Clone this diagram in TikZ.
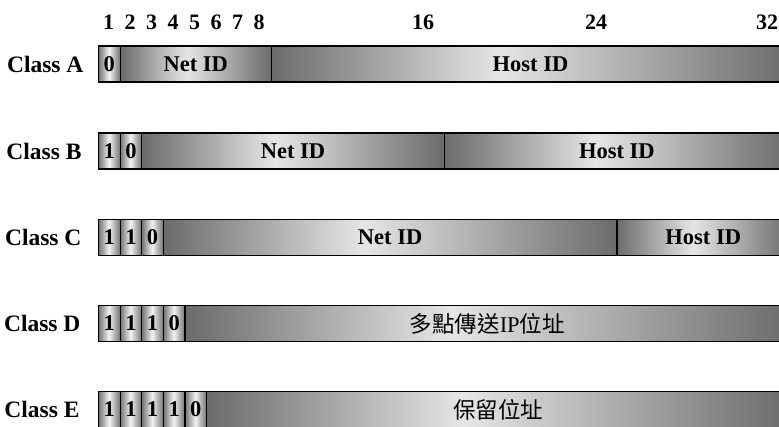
\documentclass[tikz,border=0pt]{standalone}
\usepackage{fontspec}
\setmainfont{Liberation Serif}
\newfontfamily\cjk{Noto Sans CJK TC}
\definecolor{fdark}{gray}{0.42}
\definecolor{flight}{gray}{0.9}
\definecolor{cdark}{gray}{0.45}
\definecolor{clight}{gray}{0.95}
\pgfdeclarehorizontalshading{fieldshade}{100bp}{color(0bp)=(fdark); color(25bp)=(fdark); color(47bp)=(flight); color(75bp)=(fdark); color(100bp)=(fdark)}
\pgfdeclarehorizontalshading{cellshade}{100bp}{color(0bp)=(cdark); color(25bp)=(cdark); color(49bp)=(clight); color(75bp)=(cdark); color(100bp)=(cdark)}
\tikzset{
  box/.style={draw=black, line width=1.1pt, shade, shading=fieldshade, inner sep=0pt,
    minimum height=36pt, anchor=west, font=\fontsize{22.5}{24}\selectfont\bfseries},
  cell/.style={box, shading=cellshade, minimum width=21.6pt},
  field/.style={box},
  cls/.style={anchor=east, font=\fontsize{23.5}{25}\selectfont\bfseries},
  bitnum/.style={anchor=base, font=\fontsize{22}{24}\selectfont\bfseries},
}
\begin{document}
\begin{tikzpicture}[x=1pt,y=-1pt]
\useasboundingbox (0,0) rectangle (779,426);
\clip (0,0) rectangle (779,426);
% bit numbers
\node[bitnum] (n1) at (108.5,29.5) {1};
\node[bitnum] (n2) at (130,29.5) {2};
\node[bitnum] (n3) at (151.5,29.5) {3};
\node[bitnum] (n4) at (173,29.5) {4};
\node[bitnum] (n5) at (194.5,29.5) {5};
\node[bitnum] (n6) at (216,29.5) {6};
\node[bitnum] (n7) at (237.5,29.5) {7};
\node[bitnum] (n8) at (259,29.5) {8};
\node[bitnum] (n16) at (423,29.5) {16};
\node[bitnum] (n24) at (596,29.5) {24};
\node[bitnum] (n32) at (767,29.5) {32};
% Class A
\node[cls] (lA) at (87,64) {Class A};
\node[cell] (a1) at (98,64) {0};
\node[field, minimum width=151.2pt] (aNet) at (119.6,64) {Net ID};
\node[field, minimum width=518.2pt] (aHost) at (270.8,64) {Host ID};
% Class B
\node[cls] (lB) at (85,151) {Class B};
\node[cell] (b1) at (98,151) {1};
\node[cell] (b2) at (119.6,151) {0};
\node[field, minimum width=302.4pt] (bNet) at (141.2,151) {Net ID};
\node[field, minimum width=345.4pt] (bHost) at (443.6,151) {Host ID};
% Class C
\node[cls] (lC) at (85,237.5) {Class C};
\node[cell] (c1) at (98,237.5) {1};
\node[cell] (c2) at (119.6,237.5) {1};
\node[cell] (c3) at (141.2,237.5) {0};
\node[field, minimum width=453.6pt] (cNet) at (162.8,237.5) {Net ID};
\node[field, minimum width=172.6pt] (cHost) at (616.4,237.5) {Host ID};
% Class D
\node[cls] (lD) at (84,323.5) {Class D};
\node[cell] (d1) at (98,323.5) {1};
\node[cell] (d2) at (119.6,323.5) {1};
\node[cell] (d3) at (141.2,323.5) {1};
\node[cell] (d4) at (162.8,323.5) {0};
\node[field, minimum width=604.6pt] (dF) at (184.4,323.5)
  {\mdseries{\cjk 多點傳送}IP{\cjk 位址}};
% Class E
\node[cls] (lE) at (83,409.5) {Class E};
\node[cell] (e1) at (98,409.5) {1};
\node[cell] (e2) at (119.6,409.5) {1};
\node[cell] (e3) at (141.2,409.5) {1};
\node[cell] (e4) at (162.8,409.5) {1};
\node[cell] (e5) at (184.4,409.5) {0};
\node[field, minimum width=583pt] (eF) at (206,409.5) {\mdseries\cjk 保留位址};
\end{tikzpicture}
\end{document}
